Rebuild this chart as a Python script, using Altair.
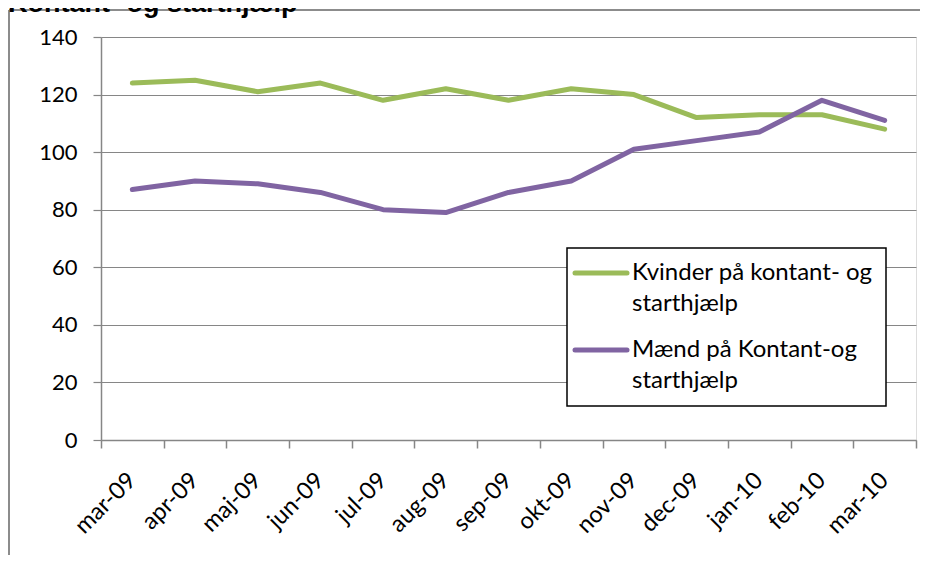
import json
import altair as alt
import pandas as pd

# ---------------- data ----------------
months = ["mar-09", "apr-09", "maj-09", "jun-09", "jul-09", "aug-09", "sep-09",
          "okt-09", "nov-09", "dec-09", "jan-10", "feb-10", "mar-10"]
kvinder = [124, 125, 121, 124, 118, 122, 118, 122, 120, 112, 113, 113, 108]
maend = [87, 90, 89, 86, 80, 79, 86, 90, 101, 104, 107, 118, 111]
series_names = ["Kvinder på kontant- og starthjælp", "Mænd på Kontant-og starthjælp"]
legend_lines = [["Kvinder på kontant- og", "starthjælp"],
                ["Mænd på Kontant-og", "starthjælp"]]
y_ticks = [0, 20, 40, 60, 80, 100, 120, 140]
title_text = "Kontant- og starthjælp"

colors = ["#9BBB59", "#8064A2"]
GRAY = "#868686"
FONT = "Lato"

rows = []
for name, vals in zip(series_names, [kvinder, maend]):
    for i, v in enumerate(vals):
        rows.append({"idx": i, "month": months[i], "value": v, "series": name})
df = pd.DataFrame(rows)

W, H = 815, 403
n = len(months)
band = W / n
tick_vals = [i - 0.5 for i in range(n + 1)]
label_expr = f"{json.dumps(months)}[round(datum.value + 0.5)] || ''"

x_enc = alt.X(
    "idx:Q",
    scale=alt.Scale(domain=[-0.5, n - 0.5], nice=False, zero=False),
    axis=alt.Axis(
        values=tick_vals, labelExpr=label_expr, title=None, grid=False,
        labelAngle=-45, labelAlign="right", labelBaseline="top",
        labelOffset=band / 2 - 9, labelPadding=20,
        labelFont=FONT, labelFontSize=23.5, labelColor="#000000",
        tickSize=8, tickColor=GRAY, tickWidth=1.5,
        domainColor=GRAY, domainWidth=1.5, labelOverlap=False,
        labelFlush=False, labelBound=False,
    ),
)
y_enc = alt.Y(
    "value:Q",
    scale=alt.Scale(domain=[0, 140], nice=False),
    axis=alt.Axis(
        values=y_ticks, title=None, grid=True, gridColor=GRAY, gridWidth=1.2,
        tickSize=8, tickColor=GRAY, tickWidth=1.2, domainColor=GRAY, domainWidth=1.5,
        labelFont=FONT, labelFontSize=22, labelColor="#000000", labelPadding=16,
        labelBaseline="middle",
    ),
)

lines = alt.Chart(df).mark_line(strokeWidth=5, strokeJoin="round", strokeCap="round").encode(
    x=x_enc,
    y=y_enc,
    color=alt.Color("series:N", scale=alt.Scale(domain=series_names, range=colors), legend=None),
    detail="series:N",
)

one = pd.DataFrame({"k": [0]})
layers = [lines]

# chart-area frame (Excel chart border)
layers.append(alt.Chart(one).mark_rule(color="#8c8c8c", strokeWidth=2).encode(
    x=alt.value(-92), y=alt.value(-27), y2=alt.value(560)))
layers.append(alt.Chart(one).mark_rule(color="#8c8c8c", strokeWidth=2).encode(
    x=alt.value(-92), x2=alt.value(900), y=alt.value(-27)))

# cut-off title at the top
layers.append(alt.Chart(one).mark_text(
    align="left", baseline="alphabetic", font="Liberation Sans", fontWeight="bold",
    fontSize=27, color="#000000").encode(
    x=alt.value(-93), y=alt.value(-25), text=alt.value(title_text)))

# legend box
layers.append(alt.Chart(one).mark_rect(fill="white", stroke="#000000", strokeWidth=1.5).encode(
    x=alt.value(466), x2=alt.value(785), y=alt.value(211), y2=alt.value(369)))
entry_y = [236, 313]
for k in range(2):
    layers.append(alt.Chart(one).mark_rule(color=colors[k], strokeWidth=5, strokeCap="round").encode(
        x=alt.value(474), x2=alt.value(526), y=alt.value(entry_y[k])))
    for j, txt in enumerate(legend_lines[k]):
        layers.append(alt.Chart(one).mark_text(
            align="left", baseline="middle", font=FONT, fontSize=24, color="#000000").encode(
            x=alt.value(531), y=alt.value(entry_y[k] + 31 * j), text=alt.value(txt)))

chart = alt.layer(*layers).properties(
    width=W, height=H,
    autosize=alt.AutoSizeParams(type="none"),
    padding={"left": 93, "top": 29, "right": 4, "bottom": 115},
).configure_view(stroke=None).configure(background="white")

chart.save("out.html", embed_options={"renderer": "svg", "actions": False})
